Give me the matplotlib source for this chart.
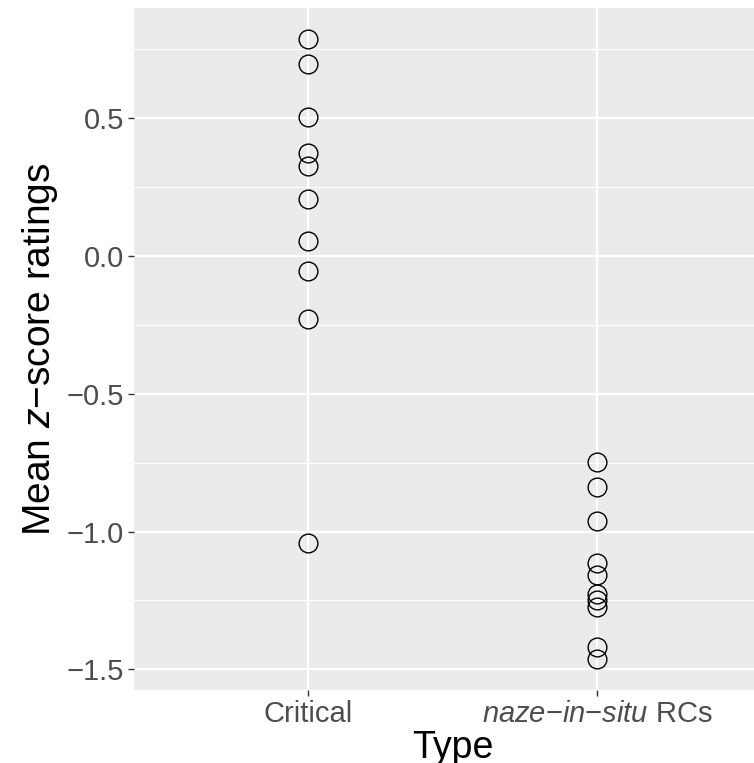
import matplotlib
matplotlib.use("Agg")
import matplotlib.pyplot as plt
from matplotlib.ticker import MultipleLocator, FixedLocator

plt.rcParams['font.family'] = ['Liberation Sans', 'DejaVu Sans']
plt.rcParams['mathtext.fontset'] = 'custom'
plt.rcParams['mathtext.rm'] = 'Liberation Sans'
plt.rcParams['mathtext.it'] = 'Liberation Sans:italic'

# Данные
types = ["Critical", "$naze$\u2212$in$\u2212$situ$ RCs"]
critical = [0.786, 0.696, 0.503, 0.375, 0.328, 0.207, 0.056, -0.053, -0.230, -1.040]
naze = [-0.747, -0.839, -0.962, -1.115, -1.159, -1.226, -1.248, -1.274, -1.418, -1.462]
y_ticks = [-1.5, -1.0, -0.5, 0.0, 0.5]
y_labels = ["\u22121.5", "\u22121.0", "\u22120.5", "0.0", "0.5"]

fig = plt.figure(figsize=(7.54, 7.63), dpi=100)
# панель шире рисунка: справа обрезана, как в оригинале
ax = fig.add_axes([134 / 754, 73 / 763, 637 / 754, 682 / 763])
ax.set_facecolor("#EBEBEB")
for s in ax.spines.values():
    s.set_visible(False)

# Сетка
ax.yaxis.set_major_locator(FixedLocator(y_ticks))
ax.yaxis.set_minor_locator(MultipleLocator(0.5, offset=0.25))
ax.grid(which="major", color="white", linewidth=1.6)
ax.grid(which="minor", axis="y", color="white", linewidth=0.8)
ax.set_axisbelow(True)

# Точки
ax.plot([0] * len(critical), critical, "o", mfc="none", mec="black", ms=13.5, mew=1.0)
ax.plot([1] * len(naze), naze, "o", mfc="none", mec="black", ms=13.5, mew=1.0)

ax.set_xlim(-0.6, 1.6)
ax.set_ylim(-1.575, 0.900)
ax.set_xticks([0, 1])
ax.set_xticklabels(types)
ax.set_yticklabels(y_labels)
ax.tick_params(which="major", length=4, width=1.0, color="#333333",
               labelsize=21, labelcolor="#4D4D4D", pad=3)
ax.tick_params(which="minor", length=0)

ax.set_xlabel("Type", fontsize=27, labelpad=2)
ax.set_ylabel("Mean $z$\u2212score ratings", fontsize=28, labelpad=5)

fig.savefig("out.png", dpi=100)
